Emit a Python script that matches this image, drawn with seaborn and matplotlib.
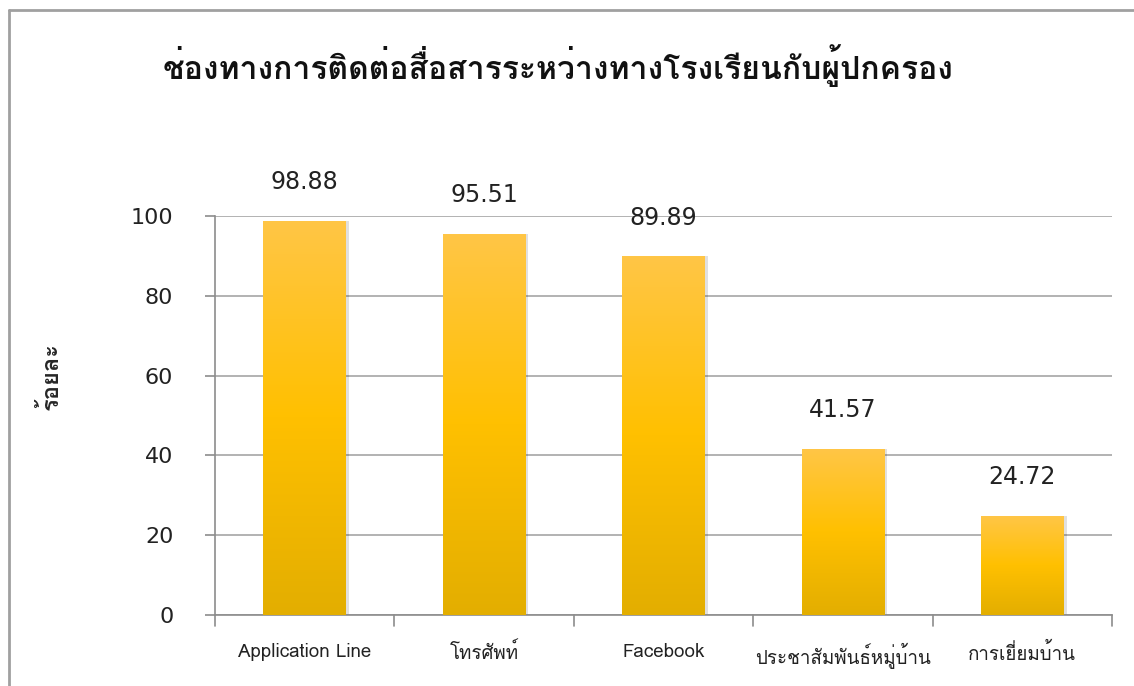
import matplotlib
matplotlib.use("Agg")
import matplotlib.pyplot as plt
import numpy as np
import pandas as pd
import seaborn as sns
from matplotlib import font_manager
from matplotlib.ft2font import FT2Font
from matplotlib.colors import LinearSegmentedColormap
from matplotlib.lines import Line2D

categories = ["Application Line", "โทรศัพท์", "Facebook", "ประชาสัมพันธ์หมู่บ้าน", "การเยี่ยมบ้าน"]
percent = [98.88, 95.51, 89.89, 41.57, 24.72]
y_ticks = [0, 20, 40, 60, 80, 100]

title = "ช่องทางการติดต่อสื่อสารระหว่างทางโรงเรียนกับผู้ปกครอง"
y_label = "ร้อยละ"


def find_thai_font():
    # look for any installed font that actually has Thai glyphs
    for f in font_manager.fontManager.ttflist:
        try:
            cmap = FT2Font(f.fname).get_charmap()
        except Exception:
            continue
        if 0x0E01 in cmap and 0x0E48 in cmap:
            return f.name
    return None


sns.set_theme(style="white")
thai = find_thai_font()
families = ["DejaVu Sans"]
if thai:
    families = [thai, "DejaVu Sans"]
plt.rcParams["font.family"] = families

df = pd.DataFrame({"channel": categories, "percent": percent})

fig = plt.figure(figsize=(11.34, 6.86), dpi=100)
ax = fig.add_axes([0.1896, 0.1035, 0.7910, 0.5815])

sns.barplot(data=df, x="channel", y="percent", ax=ax, width=0.46,
            color="#FFC000", saturation=1, zorder=3)

# vertical gradient on each bar
cmap = LinearSegmentedColormap.from_list("gold", ["#E3AE00", "#FFC000", "#FFC646"])
grad = np.linspace(0, 1, 256).reshape(-1, 1)
for patch in ax.patches:
    x0, y0 = patch.get_x(), patch.get_y()
    w, h = patch.get_width(), patch.get_height()
    # soft shadow
    ax.bar(x0 + w / 2 + 0.012, h, width=w + 0.01, bottom=0, color="#000000",
           alpha=0.12, zorder=2, linewidth=0)
    patch.set_facecolor("none")
    patch.set_edgecolor("none")
    im = ax.imshow(grad, extent=[x0, x0 + w, y0, y0 + h], origin="lower",
                   cmap=cmap, aspect="auto", zorder=3)
    im.set_clip_path(patch)

for i, v in enumerate(percent):
    ax.annotate(f"{v:.2f}", (i, v), xytext=(0, 28), textcoords="offset points",
                ha="center", va="center", fontsize=17, color="#222222",
                family=["DejaVu Sans"])

ax.set_xlim(-0.5, len(categories) - 0.5)
ax.set_ylim(0, 100)
ax.set_yticks(y_ticks)
ax.set_yticklabels([str(t) for t in y_ticks], fontsize=16, color="#222222",
                   family=["DejaVu Sans"])
ax.yaxis.grid(True, color="#A6A6A6", linewidth=1.2, zorder=0)
ax.set_axisbelow(True)

ax.set_xlabel("")
ax.set_ylabel(y_label, fontsize=17, fontweight="bold")
ax.yaxis.set_label_coords(-0.17, 0.60)
ax.tick_params(axis="x", labelsize=13.5, colors="#222222", pad=20, length=0)
ax.tick_params(axis="y", length=7, color="#8C8C8C", width=1.2, direction="out",
               left=True, pad=23)

for side in ["top", "right"]:
    ax.spines[side].set_visible(False)
for side in ["left", "bottom"]:
    ax.spines[side].set_color("#8C8C8C")
    ax.spines[side].set_linewidth(1.2)

# category separator ticks below the x axis
for b in np.arange(-0.5, len(categories), 1.0):
    ax.plot([b, b], [0, -0.027], transform=ax.get_xaxis_transform(), clip_on=False,
            color="#8C8C8C", linewidth=1.2)

fig.text(0.492, 0.905, title, ha="center", va="center", fontsize=23, fontweight="bold",
         color="#111111")

# outer chart border (top and left)
fig.add_artist(Line2D([0.0075, 0.0075], [0, 0.9855], color="#A0A0A0", linewidth=2,
                      transform=fig.transFigure))
fig.add_artist(Line2D([0.0075, 1], [0.9855, 0.9855], color="#A0A0A0", linewidth=2,
                      transform=fig.transFigure))

fig.savefig("out.png", dpi=100)
